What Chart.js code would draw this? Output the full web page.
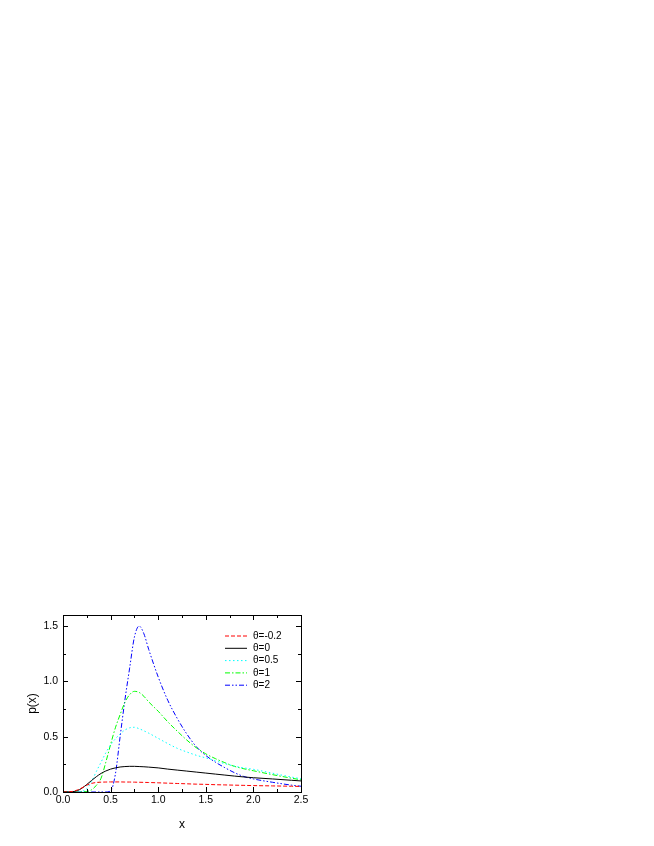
<!DOCTYPE html>
<html>
<head>
<meta charset="utf-8">
<title>p(x)</title>
<script src="https://cdn.jsdelivr.net/npm/chart.js@4.4.0/dist/chart.umd.min.js"></script>
<style>
    html, body { margin: 0; padding: 0; background: #fff; }
    canvas { display: block; }
</style>
</head>
<body>
<canvas id="grafico" width="654" height="846"></canvas>
<script>

// =============================
// DADOS
// =============================

const xValues = [0, 0.1, 0.15, 0.2, 0.25, 0.3, 0.35, 0.4, 0.45, 0.5, 0.55, 0.6, 0.65, 0.7, 0.75, 0.8,
    0.85, 0.9, 1.0, 1.1, 1.2, 1.3, 1.4, 1.5, 1.6, 1.7, 1.8, 1.9, 2.0, 2.2, 2.4, 2.5];

const thetaNeg02 = [0, 0.005, 0.018, 0.038, 0.062, 0.078, 0.086, 0.089, 0.09, 0.091, 0.091, 0.091, 0.09, 0.09, 0.089, 0.088,
    0.087, 0.086, 0.083, 0.08, 0.077, 0.074, 0.071, 0.069, 0.066, 0.064, 0.062, 0.06, 0.058, 0.055, 0.052, 0.05];

const theta0 = [0, 0.003, 0.012, 0.035, 0.068, 0.104, 0.138, 0.168, 0.19, 0.207, 0.218, 0.226, 0.23, 0.232, 0.232, 0.23,
    0.228, 0.225, 0.218, 0.207, 0.198, 0.189, 0.18, 0.171, 0.162, 0.153, 0.144, 0.136, 0.129, 0.118, 0.106, 0.1];

const theta05 = [0, 0, 0, 0.005, 0.03, 0.095, 0.185, 0.27, 0.355, 0.425, 0.48, 0.525, 0.56, 0.58, 0.585, 0.572,
    0.553, 0.532, 0.485, 0.438, 0.395, 0.362, 0.332, 0.308, 0.282, 0.256, 0.234, 0.218, 0.205, 0.17, 0.135, 0.12];

const theta1 = [0, 0, 0, 0, 0.005, 0.02, 0.06, 0.125, 0.27, 0.43, 0.58, 0.7, 0.81, 0.88, 0.91, 0.9,
    0.865, 0.815, 0.73, 0.635, 0.55, 0.47, 0.4, 0.345, 0.302, 0.265, 0.232, 0.21, 0.192, 0.157, 0.125, 0.11];

const theta2 = [0, 0, 0, 0, 0, 0, 0, 0, 0, 0.01, 0.16, 0.5, 0.83, 1.12, 1.4, 1.5,
    1.43, 1.29, 1.04, 0.83, 0.665, 0.525, 0.41, 0.33, 0.27, 0.22, 0.175, 0.14, 0.118, 0.088, 0.062, 0.052];

const seriesLabels = ["θ=-0.2", "θ=0", "θ=0.5", "θ=1", "θ=2"];

const xTicks = [0, 0.5, 1.0, 1.5, 2.0, 2.5];
const xMinorTicks = [0.25, 0.75, 1.25, 1.75, 2.25];
const yTicks = [0, 0.5, 1.0, 1.5];
const yMinorTicks = [0.25, 0.75, 1.25];

// =============================
// ESTILOS
// =============================

const estilos = [
    { color: "#ff0000", dash: [4, 2] },
    { color: "#000000", dash: [] },
    { color: "#00ffff", dash: [1.5, 2.5] },
    { color: "#00ff00", dash: [5, 2, 1.5, 2] },
    { color: "#0000ff", dash: [5, 2, 1.5, 2, 1.5, 2] }
];

Chart.defaults.font.family = '"Liberation Sans", Arial, sans-serif';
Chart.defaults.color = "#000";

function montarSerie(valores, i) {

    return {
        label: seriesLabels[i],
        data: xValues.map((x, k) => ({ x: x, y: valores[k] })),
        borderColor: estilos[i].color,
        borderDash: estilos[i].dash,
        borderWidth: 1,
        pointRadius: 0,
        fill: false,
        cubicInterpolationMode: "monotone"
    };

}

// =============================
// MOLDURA, TICKS E LEGENDA
// =============================

const moldura = {
    id: "moldura",
    afterDraw(chart) {

        const { ctx, chartArea: a, scales: { x, y } } = chart;

        ctx.save();
        ctx.strokeStyle = "#000";
        ctx.lineWidth = 1;
        ctx.setLineDash([]);
        ctx.strokeRect(a.left + 0.5, a.top + 0.5, a.right - a.left, a.bottom - a.top);

        const marca = (x1, y1, x2, y2) => {
            ctx.beginPath();
            ctx.moveTo(x1, y1);
            ctx.lineTo(x2, y2);
            ctx.stroke();
        };

        xTicks.forEach(v => {
            const px = Math.round(x.getPixelForValue(v)) + 0.5;
            marca(px, a.bottom, px, a.bottom - 5);
            marca(px, a.top, px, a.top + 5);
        });
        xMinorTicks.forEach(v => {
            const px = Math.round(x.getPixelForValue(v)) + 0.5;
            marca(px, a.bottom, px, a.bottom - 3);
            marca(px, a.top, px, a.top + 3);
        });
        yTicks.forEach(v => {
            const py = Math.round(y.getPixelForValue(v)) + 0.5;
            marca(a.left, py, a.left + 5, py);
            marca(a.right, py, a.right - 5, py);
        });
        yMinorTicks.forEach(v => {
            const py = Math.round(y.getPixelForValue(v)) + 0.5;
            marca(a.left, py, a.left + 3, py);
            marca(a.right, py, a.right - 3, py);
        });

        // legenda
        ctx.font = '10px "Liberation Sans", Arial, sans-serif';
        ctx.textBaseline = "middle";
        ctx.textAlign = "left";
        chart.data.datasets.forEach((ds, i) => {
            const ly = a.top + 21 + i * 12.3;
            ctx.strokeStyle = ds.borderColor;
            ctx.setLineDash(ds.borderDash);
            marca(a.left + 162, ly, a.left + 184, ly);
            ctx.fillStyle = "#000";
            ctx.fillText(ds.label, a.left + 190, ly);
        });

        ctx.restore();

    }
};

// =============================
// GRÁFICO
// =============================

function renderGrafico() {

    const ctx = document.getElementById("grafico");

    new Chart(ctx, {
        type: "line",
        data: {
            datasets: [
                montarSerie(thetaNeg02, 0),
                montarSerie(theta0, 1),
                montarSerie(theta05, 2),
                montarSerie(theta1, 3),
                montarSerie(theta2, 4)
            ]
        },
        options: {
            responsive: false,
            animation: false,
            devicePixelRatio: 1,
            layout: { padding: { left: 0, top: 615, right: 353, bottom: 0 } },
            plugins: {
                legend: { display: false },
                tooltip: { enabled: false }
            },
            scales: {
                x: {
                    type: "linear",
                    min: 0,
                    max: 2.5,
                    grid: { display: false, drawTicks: false },
                    border: { display: false },
                    afterBuildTicks: s => { s.ticks = xTicks.map(v => ({ value: v })); },
                    afterFit: s => { s.height = 54; },
                    ticks: {
                        padding: 2,
                        autoSkip: false,
                        maxRotation: 0,
                        color: "#000",
                        font: { size: 10.5 },
                        callback: v => Number(v).toFixed(1)
                    },
                    title: {
                        display: true,
                        text: "x",
                        color: "#000",
                        font: { size: 12 },
                        padding: { top: 0, bottom: 14 }
                    }
                },
                y: {
                    type: "linear",
                    min: 0,
                    max: 1.6,
                    grid: { display: false, drawTicks: false },
                    border: { display: false },
                    afterBuildTicks: s => { s.ticks = yTicks.map(v => ({ value: v })); },
                    afterFit: s => { s.width = 63; },
                    ticks: {
                        padding: 5,
                        autoSkip: false,
                        color: "#000",
                        font: { size: 10.5 },
                        callback: v => Number(v).toFixed(1)
                    },
                    title: {
                        display: true,
                        text: "p(x)",
                        color: "#000",
                        font: { size: 12 },
                        padding: { top: 25, bottom: 0 }
                    }
                }
            }
        },
        plugins: [moldura]
    });

}

renderGrafico();

</script>
</body>
</html>
